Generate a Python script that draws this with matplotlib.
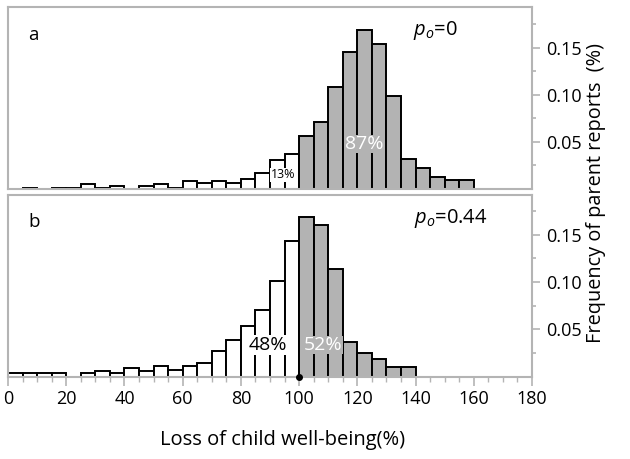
import matplotlib
matplotlib.use("Agg")
import matplotlib.pyplot as plt
from matplotlib.ticker import MultipleLocator, FixedLocator

plt.rcParams['font.family'] = ['Open Sans', 'DejaVu Sans']
plt.rcParams['mathtext.fontset'] = 'custom'
plt.rcParams['mathtext.it'] = 'Open Sans:italic'
plt.rcParams['mathtext.rm'] = 'Open Sans'

# ---- data: bin left edges (width 5) and frequencies ----
a_white_left = [5, 15, 20, 25, 30, 35, 45, 50, 55, 60, 65, 70, 75, 80, 85, 90, 95]
a_white_freq = [0.001, 0.001, 0.001, 0.0053, 0.001, 0.003, 0.003, 0.0053, 0.001,
                0.0088, 0.0068, 0.0088, 0.0068, 0.0107, 0.0166, 0.031, 0.0367]
a_grey_left = [100, 105, 110, 115, 120, 125, 130, 135, 140, 145, 150, 155]
a_grey_freq = [0.0565, 0.071, 0.108, 0.145, 0.169, 0.154, 0.0985, 0.032,
               0.0226, 0.0124, 0.0095, 0.0095]

b_white_left = [0, 5, 10, 15, 25, 30, 35, 40, 45, 50, 55, 60, 65, 70, 75, 80, 85, 90, 95]
b_white_freq = [0.0035, 0.0035, 0.0035, 0.0035, 0.0035, 0.0056, 0.0035, 0.009, 0.0053,
                0.011, 0.0074, 0.011, 0.0147, 0.027, 0.0383, 0.0533, 0.070, 0.1015, 0.143]
b_grey_left = [100, 105, 110, 115, 120, 125, 130, 135]
b_grey_freq = [0.169, 0.160, 0.1137, 0.0365, 0.0253, 0.0183, 0.0105, 0.0105]

bin_width = 5
x_ticks = [0, 20, 40, 60, 80, 100, 120, 140, 160, 180]
y_ticks = [0.05, 0.10, 0.15]
y_tick_labels = ['0.05', '0.10', '0.15']

GREY = '#b3b3b3'
FRAME = '#b4b4b4'

fig = plt.figure(figsize=(6.3, 4.59), dpi=100)
ax_a = fig.add_axes([8/630, 1-189/459, 524/630, 182/459])
ax_b = fig.add_axes([8/630, 1-376.5/459, 524/630, 181.5/459])

def style(ax, ytop, show_x):
    ax.set_xlim(0, 180)
    ax.set_ylim(0, ytop)
    for s in ax.spines.values():
        s.set_color(FRAME)
        s.set_linewidth(1.5)
    ax.yaxis.tick_right()
    ax.yaxis.set_major_locator(FixedLocator(y_ticks))
    ax.set_yticklabels(y_tick_labels)
    ax.yaxis.set_minor_locator(FixedLocator([0.025, 0.075, 0.125, 0.175]))
    ax.tick_params(axis='y', which='major', direction='out', length=6, width=1.2,
                   color=FRAME, labelsize=13, pad=4, left=False, right=True)
    ax.tick_params(axis='y', which='minor', direction='out', length=3, width=1.2,
                   color=FRAME, left=False, right=True)
    if show_x:
        ax.xaxis.set_major_locator(FixedLocator(x_ticks))
        ax.xaxis.set_minor_locator(MultipleLocator(5))
        ax.tick_params(axis='x', which='major', direction='out', length=6.5, width=1.2,
                       color=FRAME, labelsize=13, pad=3)
        ax.tick_params(axis='x', which='minor', direction='out', length=3.5, width=1.0,
                       color=FRAME)
    else:
        ax.tick_params(axis='x', which='both', bottom=False, labelbottom=False)

style(ax_a, 0.193, False)
style(ax_b, 0.192, True)

for ax, wl, wf, gl, gf in [(ax_a, a_white_left, a_white_freq, a_grey_left, a_grey_freq),
                           (ax_b, b_white_left, b_white_freq, b_grey_left, b_grey_freq)]:
    ax.bar(wl, wf, width=bin_width, align='edge', color='white', edgecolor='black',
           linewidth=1.4, zorder=2)
    ax.bar(gl, gf, width=bin_width, align='edge', color=GREY, edgecolor='black',
           linewidth=1.4, zorder=2)

# annotations panel a
ta = ax_a.get_xaxis_transform()
ax_a.text(7, 0.846, 'a', transform=ta, fontsize=13.5, va='center', ha='left')
ax_a.text(139, 0.87, r'$p_o$=0', transform=ta, fontsize=14.5, va='center', ha='left')
ax_a.text(94.6, 0.077, '13%', transform=ta, fontsize=9, va='center', ha='center', zorder=3,
          bbox=dict(facecolor='white', edgecolor='none', pad=0.5))
ax_a.text(122.3, 0.247, '87%', transform=ta, fontsize=14, va='center', ha='center',
          color='white', zorder=3, bbox=dict(facecolor=GREY, edgecolor='none', pad=0.3))

# annotations panel b
tb = ax_b.get_xaxis_transform()
ax_b.text(7, 0.851, 'b', transform=tb, fontsize=13.5, va='center', ha='left')
ax_b.text(139.5, 0.873, r'$p_o$=0.44', transform=tb, fontsize=14.5, va='center', ha='left')
ax_b.text(89.3, 0.174, '48%', transform=tb, fontsize=14, va='center', ha='center', zorder=3,
          bbox=dict(facecolor='white', edgecolor='none', pad=1.0))
ax_b.text(108.2, 0.174, '52%', transform=tb, fontsize=14, va='center', ha='center',
          color='white', zorder=3, bbox=dict(facecolor=GREY, edgecolor='none', pad=0.3))
ax_b.plot([100], [0], 'o', color='black', markersize=4, clip_on=False, zorder=4)

fig.text(283/630, 1-440/459, 'Loss of child well-being(%)', fontsize=14.5,
         ha='center', va='center')
fig.text(596/630, 1-193/459, 'Frequency of parent reports  (%)', fontsize=14.3,
         ha='center', va='center', rotation=90)

fig.savefig('out.png', dpi=100)
